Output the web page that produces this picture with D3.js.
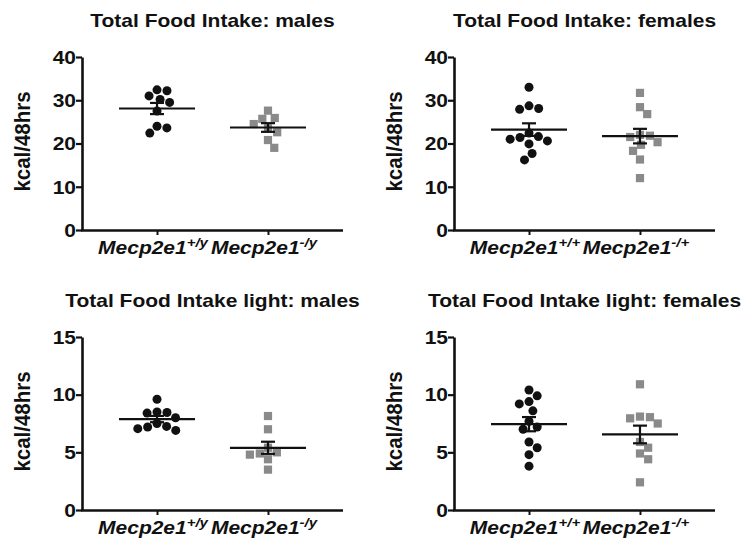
<!DOCTYPE html>
<html>
<head>
<meta charset="utf-8">
<script src="https://cdn.jsdelivr.net/npm/d3@7"></script>
<style>
  body { margin: 0; background: #fff; }
  svg { display: block; }
  text { font-family: "Liberation Sans", Arial, Helvetica, sans-serif; font-weight: bold; fill: #111; }
</style>
</head>
<body>
<svg id="chart" width="745" height="544"></svg>
<script>
// ---------------- data ----------------
const panelTitles = [
  "Total Food Intake: males",
  "Total Food Intake: females",
  "Total Food Intake light: males",
  "Total Food Intake light: females"
];
const genotypeBase = "Mecp2e1";
const maleSuperscripts = ["+/y", "-/y"];
const femaleSuperscripts = ["+/+", "-/+"];
const yLabel = "kcal/48hrs";
const totalTicks = [0, 10, 20, 30, 40];
const lightTicks = [0, 5, 10, 15];

const totalMaleWT   = [32.4, 32.2, 31.0, 30.2, 29.5, 27.5, 24.0, 23.6, 22.4];
const totalMaleKO   = [27.6, 25.9, 25.7, 24.5, 23.5, 22.6, 20.8, 19.0];
const totalFemaleWT = [33.0, 28.7, 28.1, 27.9, 22.4, 21.6, 21.4, 21.0, 20.6, 19.9, 17.7, 16.2];
const totalFemaleKO = [31.7, 28.4, 26.8, 22.0, 21.8, 21.5, 20.3, 19.7, 18.3, 16.3, 12.0];
const lightMaleWT   = [9.6, 8.5, 8.45, 8.4, 8.0, 7.5, 7.25, 7.2, 7.05, 6.9];
const lightMaleKO   = [8.15, 7.0, 5.4, 5.0, 4.9, 4.8, 4.4, 3.5];
const lightFemaleWT = [10.4, 9.9, 9.4, 9.2, 8.6, 7.7, 7.2, 7.0, 5.9, 5.4, 4.8, 3.8];
const lightFemaleKO = [10.9, 8.1, 8.05, 7.95, 7.5, 5.9, 5.4, 4.9, 4.4, 2.4];

// ---------------- layout ----------------
const SX = 1.2;            // horizontal text stretch seen in the reference
const plotW = 261;
const colX = [82, 454];
const rowY = [[57, 230], [337, 510]];
const WT_COLOR = "#111";
const KO_COLOR = "#8a8a8a";

const panels = [
  { title: panelTitles[0], sup: maleSuperscripts,   ticks: totalTicks, max: 40, wt: totalMaleWT,   ko: totalMaleKO,   col: 0, row: 0 },
  { title: panelTitles[1], sup: femaleSuperscripts, ticks: totalTicks, max: 40, wt: totalFemaleWT, ko: totalFemaleKO, col: 1, row: 0 },
  { title: panelTitles[2], sup: maleSuperscripts,   ticks: lightTicks, max: 15, wt: lightMaleWT,   ko: lightMaleKO,   col: 0, row: 1 },
  { title: panelTitles[3], sup: femaleSuperscripts, ticks: lightTicks, max: 15, wt: lightFemaleWT, ko: lightFemaleKO, col: 1, row: 1 }
];

const svg = d3.select("#chart");

function beeswarm(values, y, D) {
  const placed = [];
  return values.map(v => {
    const py = y(v);
    const cands = [0];
    for (const p of placed) {
      const dy = Math.abs(p.y - py);
      if (dy < D) {
        const dx = Math.sqrt(D * D - dy * dy);
        cands.push(p.x + dx, p.x - dx);
      }
    }
    cands.sort((a, b) => Math.abs(a) - Math.abs(b) || b - a);
    const x = cands.find(c => placed.every(p => (p.x - c) ** 2 + (p.y - py) ** 2 >= D * D - 0.01));
    placed.push({ x, y: py });
    return { v, dx: x, y: py };
  });
}

panels.forEach(p => {
  const left = colX[p.col];
  const [top, bottom] = rowY[p.row];
  const g = svg.append("g");

  const y = d3.scaleLinear().domain([0, p.max]).range([bottom, top]);
  const x = d3.scalePoint().domain(["wt", "ko"]).range([left, left + plotW]).padding(0.676);

  // title
  g.append("text")
    .attr("transform", `translate(${left + plotW / 2},${top - 30}) scale(${SX},1)`)
    .attr("text-anchor", "middle")
    .style("font-size", "17.5px")
    .text(p.title);

  // y axis
  const yAxis = g.append("g")
    .attr("transform", `translate(${left},0)`)
    .call(d3.axisLeft(y).tickValues(p.ticks).tickSize(6).tickSizeOuter(0).tickPadding(5));
  yAxis.select(".domain").attr("stroke", "#111").attr("stroke-width", 2.6);
  yAxis.selectAll(".tick line").attr("stroke", "#111").attr("stroke-width", 2.2);
  yAxis.selectAll(".tick text")
    .attr("x", -5)
    .attr("dy", "0.36em")
    .attr("transform", `scale(${SX},1)`)
    .style("font-size", "17.5px")
    .style("font-family", '"Liberation Sans", Arial, sans-serif')
    .style("font-weight", "bold")
    .attr("fill", "#111");

  // x axis
  const xAxis = g.append("g")
    .attr("transform", `translate(0,${bottom})`)
    .call(d3.axisBottom(x).tickSize(5).tickSizeOuter(0).tickFormat(""));
  xAxis.select(".domain").attr("stroke", "#111").attr("stroke-width", 2.6)
    .attr("d", `M${left - 1},0.5H${left + plotW}`);
  xAxis.selectAll(".tick line").attr("stroke", "#111").attr("stroke-width", 2);

  // x labels
  ["wt", "ko"].forEach((k, i) => {
    const t = g.append("text")
      .attr("transform", `translate(${x(k) - 4},${bottom + 24}) scale(${SX},1)`)
      .attr("text-anchor", "middle")
      .style("font-size", "17.5px")
      .style("font-style", "italic");
    t.append("tspan").text(genotypeBase);
    t.append("tspan").attr("dy", -7).style("font-size", "12.5px").text(p.sup[i]);
  });

  // y label
  g.append("text")
    .attr("transform", `translate(${left - 52},${(top + bottom) / 2 - 2}) rotate(-90) scale(1,1.1)`)
    .attr("text-anchor", "middle")
    .style("font-size", "20.5px")
    .text(yLabel);

  // points
  const D = 10;
  const wtPts = beeswarm(p.wt, y, D);
  const koPts = beeswarm(p.ko, y, D);

  g.append("g").selectAll("circle").data(wtPts).join("circle")
    .attr("cx", d => x("wt") + d.dx)
    .attr("cy", d => d.y)
    .attr("r", 4.5)
    .attr("fill", WT_COLOR);

  const s = 8.2;
  g.append("g").selectAll("rect").data(koPts).join("rect")
    .attr("x", d => x("ko") + d.dx - s / 2)
    .attr("y", d => d.y - s / 2)
    .attr("width", s)
    .attr("height", s)
    .attr("fill", KO_COLOR);

  // mean +/- SEM
  [["wt", p.wt], ["ko", p.ko]].forEach(([k, vals]) => {
    const m = d3.mean(vals);
    const sem = d3.deviation(vals) / Math.sqrt(vals.length);
    const cx = x(k);
    const lg = g.append("g").attr("stroke", "#111").attr("stroke-width", 2.2).attr("fill", "none");
    lg.append("line").attr("x1", cx - 38).attr("x2", cx + 38).attr("y1", y(m)).attr("y2", y(m));
    lg.append("line").attr("x1", cx).attr("x2", cx).attr("y1", y(m - sem)).attr("y2", y(m + sem));
    lg.append("line").attr("x1", cx - 7).attr("x2", cx + 7).attr("y1", y(m + sem)).attr("y2", y(m + sem));
    lg.append("line").attr("x1", cx - 7).attr("x2", cx + 7).attr("y1", y(m - sem)).attr("y2", y(m - sem));
  });
});
</script>
</body>
</html>
